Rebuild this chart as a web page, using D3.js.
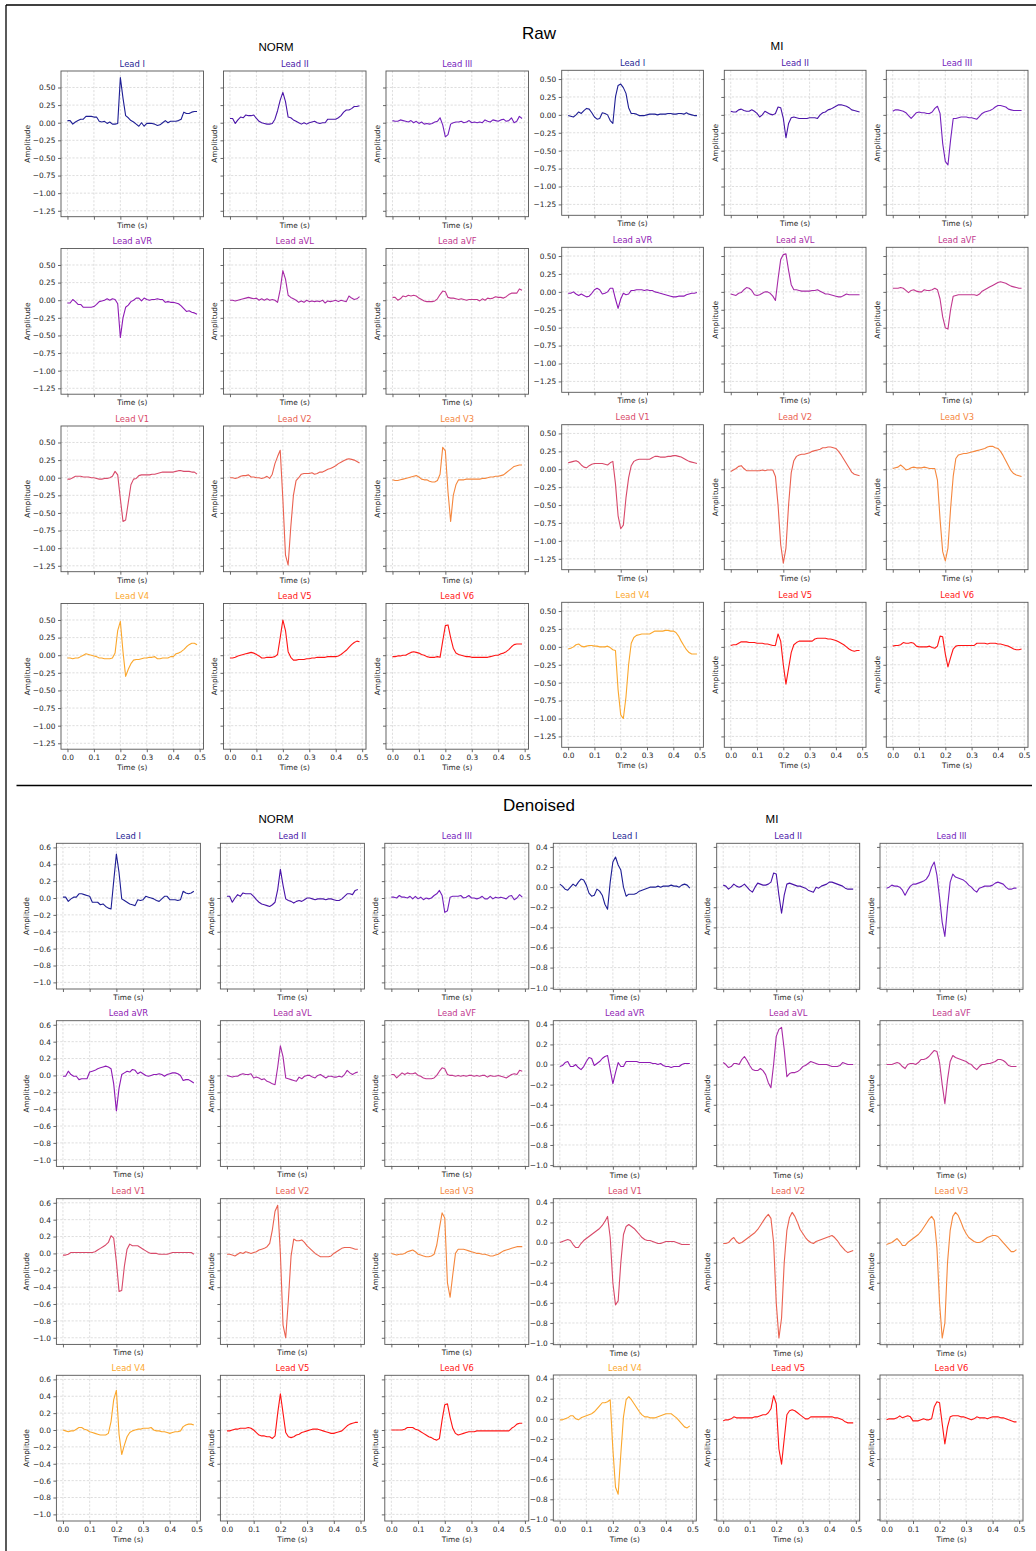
<!DOCTYPE html>
<html>
<head>
<meta charset="utf-8">
<title>ECG leads: Raw vs Denoised</title>
<script src="https://d3js.org/d3.v7.min.js"></script>
<style>
  body { margin: 0; background: #fff; }
  svg { display: block; }
  .tick text { fill: #262626; }
  .lbl { font-family: "DejaVu Sans", sans-serif; fill: #262626; }
</style>
</head>
<body>
<svg id="chart" width="1036" height="1551"></svg>
<script>
// ---- data ----
const leads = ["I", "II", "III", "aVR", "aVL", "aVF", "V1", "V2", "V3", "V4", "V5", "V6"];
const leadColors = ["#1e1e94", "#4a14a8", "#7420bc", "#8e1ab4", "#a72aa6", "#c2388e",
                    "#d84a6a", "#ea6150", "#f5873d", "#fba72c", "#ff1414", "#ff1414"];
const timeS = [0.00,0.01,0.02,0.03,0.04,0.05,0.06,0.07,0.08,0.09,0.10,0.11,0.12,0.13,0.14,0.15,0.16,0.17,0.18,0.19,
               0.20,0.21,0.22,0.23,0.24,0.25,0.26,0.27,0.28,0.29,0.30,0.31,0.32,0.33,0.34,0.35,0.36,0.37,0.38,0.39,
               0.40,0.41,0.42,0.43,0.44,0.45,0.46,0.47,0.48,0.49];
const xTicks = [0, 0.1, 0.2, 0.3, 0.4, 0.5];
const rawYTicks = [0.5, 0.25, 0, -0.25, -0.5, -0.75, -1, -1.25];
const denNormYTicks = [0.6, 0.4, 0.2, 0, -0.2, -0.4, -0.6, -0.8, -1.0];
const denMIYTicks = [0.4, 0.2, 0, -0.2, -0.4, -0.6, -0.8, -1.0];

// raw NORM, one row per lead
const rawNorm = [
  [0.03,0.03,-0.02,0.01,0.03,0.05,0.05,0.09,0.09,0.09,0.08,0.08,0.02,0.01,0.02,-0.01,0.01,-0.02,-0.02,-0.01,0.64,0.35,0.10,0.07,0.03,0.01,-0.02,-0.05,0.00,-0.05,-0.01,-0.01,-0.01,-0.02,-0.04,-0.03,0.00,0.03,0.00,0.02,0.02,0.02,0.03,0.05,0.15,0.13,0.13,0.15,0.16,0.16],
  [0.06,0.06,-0.01,0.04,0.08,0.07,0.11,0.10,0.10,0.11,0.06,0.02,0.00,-0.01,-0.02,-0.02,-0.01,0.05,0.17,0.32,0.43,0.30,0.08,0.07,0.04,0.02,0.00,-0.02,0.00,-0.02,0.00,0.01,0.02,0.00,-0.01,0.00,0.00,0.05,0.05,0.05,0.05,0.07,0.10,0.15,0.18,0.18,0.20,0.23,0.23,0.24],
  [0.03,0.02,0.02,0.04,0.03,0.02,0.01,0.03,0.00,0.02,-0.01,0.01,-0.02,-0.01,-0.02,-0.01,0.01,0.02,0.07,-0.03,-0.20,-0.17,-0.02,0.00,0.01,0.01,0.02,0.00,0.01,0.03,0.00,0.01,0.00,0.01,0.00,0.04,0.02,0.01,0.04,0.03,0.02,0.04,0.05,0.02,0.03,0.07,0.00,0.02,0.09,0.06],
  [-0.04,-0.04,0.01,-0.02,-0.06,-0.06,-0.10,-0.10,-0.10,-0.10,-0.09,-0.06,-0.02,-0.01,0.00,0.02,0.00,0.02,0.01,-0.05,-0.53,-0.25,-0.10,-0.07,-0.02,0.00,0.03,0.03,-0.01,0.03,0.01,0.00,0.01,0.01,0.02,0.01,0.01,-0.03,-0.02,-0.03,-0.03,-0.04,-0.05,-0.08,-0.12,-0.16,-0.15,-0.17,-0.18,-0.20],
  [0.00,0.00,-0.01,0.00,0.01,0.02,0.03,0.04,0.03,0.02,0.03,0.00,0.02,0.00,0.02,0.00,0.01,0.00,-0.03,0.15,0.42,0.30,0.07,0.04,0.02,0.00,-0.03,-0.01,-0.03,0.00,-0.02,-0.01,-0.02,-0.01,-0.02,0.00,-0.04,-0.01,-0.02,-0.01,0.00,-0.02,0.00,-0.01,-0.02,0.06,0.03,0.01,0.02,0.05],
  [0.04,0.04,0.00,0.02,0.06,0.05,0.07,0.06,0.07,0.06,0.03,0.01,-0.01,-0.02,-0.02,-0.02,-0.01,0.02,0.08,0.13,0.12,0.04,0.03,0.03,0.02,0.01,0.02,0.01,0.00,0.01,0.01,0.01,0.01,-0.01,0.02,0.00,0.03,0.02,0.03,0.05,0.04,0.04,0.03,0.05,0.08,0.10,0.10,0.10,0.16,0.14],
  [-0.02,-0.02,0.00,0.02,0.02,0.02,0.01,0.01,0.01,0.00,0.00,-0.01,-0.02,-0.02,-0.01,-0.01,0.00,0.02,0.09,0.04,-0.30,-0.62,-0.60,-0.35,-0.10,-0.02,-0.01,0.03,0.04,0.04,0.04,0.04,0.05,0.05,0.06,0.07,0.08,0.08,0.08,0.08,0.08,0.09,0.10,0.10,0.09,0.09,0.09,0.08,0.08,0.05],
  [0.00,0.00,-0.01,0.00,0.02,0.03,0.03,0.04,0.01,0.01,0.00,0.00,-0.01,0.00,0.02,-0.01,0.05,0.20,0.30,0.39,-0.30,-1.10,-1.24,-0.70,-0.25,-0.04,0.00,0.05,0.06,0.06,0.06,0.07,0.05,0.06,0.08,0.08,0.10,0.12,0.13,0.15,0.17,0.20,0.22,0.24,0.26,0.27,0.26,0.25,0.23,0.21],
  [-0.03,-0.04,-0.04,-0.03,-0.02,-0.01,0.00,0.01,0.02,0.03,0.01,-0.02,-0.03,-0.03,-0.05,-0.06,-0.06,-0.04,0.05,0.43,0.38,-0.20,-0.62,-0.25,-0.10,-0.03,-0.03,-0.03,-0.02,-0.02,-0.02,-0.02,-0.02,-0.02,-0.01,-0.01,0.00,0.01,0.01,0.02,0.02,0.03,0.04,0.07,0.10,0.13,0.16,0.17,0.18,0.18],
  [-0.04,-0.04,-0.05,-0.04,-0.04,-0.02,0.00,0.02,0.01,0.00,-0.01,-0.02,-0.04,-0.04,-0.05,-0.05,-0.05,-0.04,0.03,0.35,0.48,0.05,-0.30,-0.20,-0.12,-0.07,-0.06,-0.06,-0.05,-0.04,-0.04,-0.03,-0.03,-0.02,-0.05,-0.05,-0.04,-0.04,-0.04,-0.02,-0.02,0.02,0.03,0.05,0.08,0.12,0.15,0.17,0.17,0.15],
  [-0.04,-0.04,-0.03,-0.01,0.00,0.01,0.02,0.03,0.04,0.03,0.01,-0.01,-0.04,-0.04,-0.03,-0.03,-0.03,-0.02,0.01,0.25,0.50,0.35,0.05,-0.03,-0.07,-0.07,-0.06,-0.06,-0.06,-0.05,-0.05,-0.04,-0.04,-0.03,-0.03,-0.03,-0.03,-0.02,-0.02,-0.02,-0.02,-0.01,0.01,0.04,0.07,0.11,0.15,0.18,0.20,0.19],
  [-0.02,-0.02,-0.01,-0.01,0.00,0.00,0.02,0.04,0.05,0.04,0.03,0.01,0.00,-0.02,-0.03,-0.03,-0.03,-0.02,-0.03,0.20,0.42,0.43,0.25,0.10,0.03,0.01,0.00,-0.01,-0.02,-0.02,-0.03,-0.03,-0.03,-0.03,-0.03,-0.03,-0.03,-0.02,-0.01,0.00,0.00,0.02,0.03,0.05,0.08,0.12,0.15,0.16,0.16,0.16]
];

// raw MI
const rawMI = [
  [-0.01,-0.02,-0.03,0.00,0.04,0.02,0.06,0.09,0.08,0.03,-0.03,-0.06,-0.05,0.03,0.02,0.00,-0.08,-0.12,0.25,0.41,0.43,0.38,0.30,0.10,0.02,0.02,0.01,-0.01,-0.01,-0.01,0.00,0.01,0.01,0.01,0.00,0.01,0.01,0.01,0.02,0.02,0.01,0.01,0.02,0.02,0.01,0.03,0.01,0.00,-0.01,-0.01],
  [0.05,0.04,0.04,0.07,0.08,0.06,0.05,0.05,0.07,0.05,0.02,-0.03,0.00,0.05,0.03,0.01,0.00,0.02,0.11,0.10,-0.05,-0.32,-0.12,-0.04,-0.03,-0.04,-0.05,-0.05,-0.05,-0.05,-0.04,-0.04,-0.04,-0.05,0.00,0.03,0.04,0.07,0.08,0.10,0.12,0.14,0.14,0.13,0.12,0.10,0.07,0.06,0.05,0.04],
  [0.05,0.07,0.07,0.06,0.05,0.03,-0.01,-0.05,-0.01,0.03,0.04,0.03,0.03,0.02,0.02,0.04,0.09,0.12,0.02,-0.40,-0.65,-0.70,-0.35,-0.05,-0.05,-0.04,-0.03,-0.03,-0.03,-0.04,-0.04,-0.05,-0.06,-0.02,0.02,0.04,0.05,0.06,0.08,0.11,0.13,0.13,0.12,0.11,0.08,0.07,0.06,0.06,0.06,0.06],
  [-0.02,-0.02,0.00,-0.03,-0.05,-0.03,-0.05,-0.07,-0.06,-0.02,0.03,0.05,0.03,-0.03,-0.02,0.00,0.05,0.05,-0.10,-0.23,-0.10,-0.02,-0.04,-0.03,0.02,0.02,0.03,0.03,0.03,0.02,0.03,0.02,0.02,0.00,-0.01,-0.02,-0.03,-0.04,-0.05,-0.06,-0.07,-0.07,-0.06,-0.06,-0.06,-0.04,-0.03,-0.02,-0.02,-0.01],
  [-0.03,-0.04,-0.05,-0.02,-0.01,0.03,0.06,0.05,0.02,-0.04,-0.05,-0.04,-0.02,0.00,0.00,-0.02,-0.06,-0.12,0.18,0.45,0.52,0.53,0.30,0.10,0.03,0.03,0.02,0.01,0.01,0.01,0.01,0.02,0.02,0.03,0.01,-0.01,-0.03,-0.03,-0.04,-0.05,-0.06,-0.07,-0.07,-0.05,-0.03,-0.04,-0.04,-0.04,-0.04,-0.04],
  [0.05,0.05,0.05,0.06,0.05,0.02,-0.01,0.02,0.03,0.01,0.00,0.00,0.03,0.02,0.02,0.03,0.05,0.03,-0.10,-0.35,-0.50,-0.52,-0.25,-0.06,-0.05,-0.04,-0.04,-0.04,-0.04,-0.04,-0.04,-0.04,-0.05,-0.03,0.01,0.03,0.05,0.07,0.09,0.11,0.13,0.14,0.13,0.12,0.10,0.08,0.07,0.06,0.05,0.05],
  [0.09,0.10,0.11,0.12,0.10,0.06,0.03,0.02,0.05,0.07,0.08,0.08,0.08,0.08,0.07,0.06,0.09,0.11,-0.20,-0.65,-0.83,-0.78,-0.40,-0.12,0.05,0.11,0.13,0.14,0.14,0.14,0.14,0.14,0.16,0.18,0.18,0.17,0.17,0.17,0.18,0.18,0.19,0.19,0.18,0.17,0.15,0.13,0.11,0.10,0.09,0.08],
  [-0.03,-0.01,0.01,0.04,0.05,0.01,-0.02,-0.02,-0.02,-0.02,-0.02,-0.02,-0.01,-0.02,-0.01,-0.01,-0.01,-0.10,-0.50,-1.05,-1.31,-1.10,-0.50,-0.05,0.12,0.18,0.20,0.21,0.21,0.22,0.23,0.25,0.26,0.27,0.28,0.30,0.30,0.31,0.31,0.30,0.29,0.25,0.20,0.14,0.08,0.02,-0.04,-0.07,-0.08,-0.09],
  [0.01,0.02,0.03,0.06,0.03,-0.01,0.00,0.02,0.03,0.02,0.02,0.02,0.03,0.02,0.01,0.01,0.01,-0.15,-0.70,-1.15,-1.28,-1.10,-0.55,-0.10,0.15,0.20,0.21,0.22,0.22,0.23,0.24,0.25,0.26,0.27,0.28,0.29,0.31,0.32,0.32,0.30,0.29,0.25,0.19,0.12,0.05,-0.02,-0.06,-0.08,-0.09,-0.10],
  [-0.03,-0.02,0.00,0.03,0.04,0.01,0.00,0.01,0.02,0.02,0.01,0.01,0.00,0.00,0.00,0.01,-0.01,-0.04,-0.05,-0.60,-0.95,-1.00,-0.70,-0.25,0.05,0.13,0.16,0.17,0.18,0.18,0.18,0.18,0.20,0.22,0.22,0.22,0.22,0.23,0.23,0.22,0.22,0.20,0.15,0.08,0.02,-0.04,-0.08,-0.10,-0.10,-0.10],
  [0.02,0.03,0.03,0.05,0.07,0.07,0.07,0.06,0.06,0.06,0.05,0.05,0.05,0.04,0.04,0.03,0.02,0.02,0.18,0.08,-0.25,-0.52,-0.30,-0.08,0.03,0.06,0.08,0.08,0.08,0.08,0.08,0.08,0.11,0.12,0.12,0.12,0.12,0.11,0.11,0.10,0.09,0.07,0.05,0.03,0.00,-0.03,-0.05,-0.06,-0.05,-0.05],
  [0.01,0.02,0.02,0.03,0.06,0.05,0.05,0.06,0.05,0.01,0.00,0.00,0.00,0.00,0.01,-0.01,-0.02,0.01,0.15,0.14,-0.10,-0.28,-0.15,-0.03,0.01,0.02,0.02,0.02,0.02,0.02,0.02,0.02,0.05,0.05,0.05,0.05,0.04,0.05,0.05,0.05,0.04,0.04,0.03,0.02,0.01,-0.01,-0.03,-0.04,-0.04,-0.03]
];

// denoised NORM
const denNorm = [
  [0.01,0.01,-0.04,-0.01,0.01,0.01,0.05,0.05,0.04,0.03,0.02,-0.05,-0.05,-0.05,-0.08,-0.07,-0.10,-0.12,-0.13,0.20,0.52,0.30,-0.01,-0.03,-0.05,-0.07,-0.08,-0.09,-0.02,-0.03,-0.02,0.02,0.01,0.00,-0.01,-0.03,-0.04,-0.01,0.02,0.02,-0.02,-0.02,-0.02,-0.03,-0.02,0.08,0.06,0.05,0.06,0.08],
  [0.02,0.02,-0.05,0.00,0.04,0.02,0.06,0.05,0.05,0.05,0.02,-0.02,-0.05,-0.07,-0.08,-0.09,-0.10,-0.08,-0.05,0.10,0.34,0.15,-0.01,-0.03,-0.04,-0.06,-0.04,-0.03,-0.04,-0.02,0.00,0.00,-0.01,-0.02,-0.01,-0.01,-0.01,-0.02,-0.01,-0.01,-0.02,-0.03,-0.03,-0.01,0.02,0.05,0.05,0.04,0.09,0.10],
  [0.01,0.01,0.00,0.03,0.01,0.01,0.00,0.02,-0.01,0.02,-0.01,0.01,-0.02,0.00,-0.01,0.00,0.03,0.05,0.09,0.03,-0.17,-0.15,0.01,0.02,0.02,0.02,0.03,0.00,0.01,0.03,0.00,0.00,-0.01,0.00,0.02,-0.01,-0.01,0.02,-0.01,0.01,0.00,0.01,0.00,-0.01,0.02,0.03,-0.02,0.00,0.04,0.01],
  [-0.01,-0.01,0.05,0.01,-0.01,-0.01,-0.05,-0.04,-0.04,-0.04,0.04,0.05,0.06,0.08,0.09,0.10,0.11,0.10,0.08,-0.10,-0.42,-0.15,0.01,0.03,0.05,0.04,0.07,0.06,0.02,0.04,0.02,0.00,-0.01,0.00,0.01,0.01,0.02,0.01,-0.01,0.01,0.02,0.03,0.03,0.02,0.00,-0.06,-0.05,-0.05,-0.07,-0.09],
  [0.00,-0.01,-0.02,-0.01,-0.01,0.01,0.02,0.01,0.01,0.02,-0.03,-0.02,-0.03,-0.05,-0.04,-0.07,-0.08,-0.10,-0.11,0.10,0.35,0.22,-0.03,-0.04,-0.05,-0.06,-0.07,-0.02,-0.04,-0.01,0.00,0.00,-0.02,-0.03,0.00,0.01,-0.01,-0.03,-0.01,-0.01,-0.02,-0.02,-0.01,-0.02,0.01,0.06,0.03,0.01,0.03,0.04],
  [0.01,0.01,-0.03,0.00,0.03,0.01,0.03,0.02,0.02,0.03,0.00,-0.01,-0.03,-0.04,-0.04,-0.04,-0.03,0.00,0.05,0.09,0.08,0.01,0.00,0.00,-0.01,0.00,-0.01,0.00,-0.01,0.00,0.00,-0.01,0.00,-0.01,0.00,0.00,-0.02,0.00,-0.01,-0.01,0.00,-0.01,-0.02,-0.03,-0.01,0.01,0.02,0.01,0.06,0.05],
  [-0.02,-0.02,-0.01,0.01,0.01,0.01,0.01,0.01,0.01,0.01,0.01,0.01,0.02,0.04,0.06,0.08,0.10,0.13,0.21,0.18,-0.10,-0.45,-0.44,-0.15,0.05,0.11,0.09,0.09,0.09,0.07,0.05,0.03,0.01,0.00,0.00,0.00,-0.01,-0.01,-0.01,-0.01,0.00,0.01,0.01,0.01,0.01,0.01,0.01,0.01,0.01,-0.01],
  [-0.01,-0.01,-0.02,-0.03,-0.01,0.01,0.00,0.02,0.01,0.00,0.01,0.02,0.04,0.05,0.06,0.08,0.12,0.28,0.50,0.57,0.00,-0.85,-1.00,-0.55,-0.03,0.17,0.15,0.15,0.16,0.13,0.09,0.06,0.03,0.00,-0.02,-0.04,-0.04,-0.04,-0.04,-0.03,0.00,0.02,0.04,0.06,0.07,0.07,0.07,0.06,0.05,0.05],
  [0.00,-0.01,-0.02,-0.01,-0.01,0.00,0.02,0.03,0.04,0.02,-0.01,-0.02,-0.03,-0.04,-0.04,-0.03,-0.01,0.10,0.30,0.48,0.42,-0.35,-0.52,-0.25,0.00,0.05,0.05,0.05,0.04,0.03,0.02,0.01,0.00,0.00,-0.01,-0.01,-0.02,-0.03,-0.03,-0.02,-0.01,0.01,0.03,0.04,0.05,0.06,0.07,0.08,0.08,0.08],
  [0.00,-0.01,-0.02,-0.01,-0.01,0.01,0.03,0.03,0.01,0.00,-0.02,-0.03,-0.04,-0.05,-0.06,-0.06,-0.06,-0.04,0.10,0.36,0.47,-0.05,-0.29,-0.18,-0.08,-0.03,-0.01,0.00,0.01,0.01,0.02,0.02,0.02,0.03,0.00,-0.01,-0.01,-0.02,-0.02,-0.03,-0.04,-0.03,-0.02,-0.02,-0.01,0.04,0.06,0.07,0.07,0.06],
  [-0.01,-0.01,0.00,0.01,0.01,0.02,0.02,0.02,0.03,0.02,0.00,-0.03,-0.06,-0.07,-0.07,-0.08,-0.08,-0.10,-0.07,0.20,0.43,0.20,-0.03,-0.08,-0.09,-0.08,-0.06,-0.05,-0.03,-0.02,-0.01,0.00,0.01,0.01,0.01,0.00,-0.01,-0.02,-0.03,-0.04,-0.04,-0.03,-0.02,-0.01,0.02,0.05,0.07,0.08,0.09,0.09],
  [0.00,0.00,0.00,0.00,0.00,0.01,0.03,0.03,0.03,0.01,0.00,-0.02,-0.04,-0.06,-0.08,-0.09,-0.11,-0.12,-0.10,0.12,0.30,0.31,0.15,0.02,-0.04,-0.06,-0.05,-0.04,-0.03,-0.02,-0.02,-0.02,-0.01,-0.01,-0.01,-0.01,-0.01,-0.01,-0.01,-0.01,-0.01,-0.01,-0.01,-0.01,-0.01,0.02,0.04,0.07,0.08,0.08]
];

// denoised MI
const denMI = [
  [0.03,0.01,-0.02,-0.03,0.00,0.03,0.01,0.05,0.08,0.07,0.02,-0.06,-0.09,-0.08,-0.02,-0.04,-0.08,-0.17,-0.22,0.05,0.25,0.30,0.22,0.17,0.00,-0.09,-0.07,-0.07,-0.07,-0.06,-0.04,-0.03,-0.02,-0.01,0.00,0.00,0.00,0.01,0.00,0.01,0.01,0.01,0.02,0.01,0.01,0.00,0.02,0.03,0.02,-0.01],
  [0.02,0.01,-0.02,0.00,0.03,0.01,0.00,0.01,0.03,0.00,-0.03,-0.05,0.00,0.04,0.03,0.02,0.02,0.03,0.05,0.14,0.13,-0.08,-0.26,-0.08,0.03,0.04,0.03,0.02,0.01,0.01,0.00,-0.01,-0.03,-0.04,-0.05,0.00,-0.01,0.01,0.02,0.03,0.05,0.05,0.04,0.03,0.02,0.01,-0.01,-0.02,-0.02,-0.02],
  [-0.01,0.00,0.02,0.01,0.01,0.00,-0.03,-0.08,-0.03,0.01,0.03,0.03,0.04,0.05,0.06,0.08,0.12,0.20,0.25,0.12,-0.10,-0.35,-0.49,-0.20,0.05,0.13,0.10,0.09,0.08,0.07,0.05,0.02,0.00,-0.03,-0.05,-0.01,0.00,0.01,0.01,0.01,0.02,0.04,0.05,0.04,0.03,0.00,-0.02,-0.02,-0.01,-0.01],
  [-0.02,-0.01,0.02,0.03,-0.02,-0.02,0.00,-0.03,-0.05,-0.02,0.03,0.07,0.06,-0.01,0.01,0.03,0.06,0.08,0.09,-0.05,-0.19,-0.08,0.02,-0.02,-0.02,0.03,0.03,0.03,0.03,0.03,0.02,0.02,0.02,0.02,0.02,0.01,0.01,0.00,0.01,-0.01,-0.02,-0.02,-0.03,-0.02,-0.02,-0.02,0.00,0.01,0.01,0.01],
  [0.02,0.00,-0.03,-0.02,0.01,0.01,0.00,0.05,0.08,0.04,-0.01,-0.05,-0.06,-0.06,-0.04,-0.06,-0.10,-0.18,-0.23,0.00,0.28,0.35,0.37,0.15,-0.12,-0.09,-0.08,-0.08,-0.07,-0.05,-0.02,-0.01,0.01,0.03,0.02,0.01,0.00,0.00,0.00,0.00,-0.01,-0.02,-0.02,-0.02,-0.01,0.02,0.01,0.00,0.00,0.00],
  [0.00,0.00,0.00,0.01,0.02,0.01,-0.02,-0.04,0.00,0.01,0.01,0.00,0.02,0.05,0.05,0.06,0.08,0.11,0.14,0.13,0.02,-0.20,-0.39,-0.15,0.03,0.09,0.07,0.06,0.05,0.04,0.03,0.01,0.00,-0.03,-0.05,-0.02,0.00,0.00,0.01,0.01,0.02,0.03,0.05,0.05,0.04,0.02,-0.01,-0.02,-0.02,-0.02],
  [0.00,0.01,0.02,0.03,0.02,-0.02,-0.05,-0.05,-0.01,0.02,0.04,0.06,0.08,0.10,0.12,0.14,0.17,0.21,0.26,0.05,-0.40,-0.62,-0.58,-0.20,0.08,0.16,0.18,0.16,0.14,0.11,0.08,0.05,0.03,0.02,0.02,0.01,0.00,-0.01,-0.01,0.00,0.01,0.01,0.01,0.01,0.00,-0.01,-0.02,-0.02,-0.02,-0.02],
  [-0.01,-0.01,0.00,0.03,0.05,0.01,-0.01,0.00,0.02,0.04,0.06,0.08,0.10,0.13,0.17,0.21,0.25,0.28,0.24,0.00,-0.60,-0.95,-0.75,-0.20,0.12,0.25,0.30,0.26,0.20,0.13,0.09,0.05,0.02,0.00,-0.01,0.01,0.02,0.03,0.04,0.05,0.06,0.07,0.05,0.02,-0.02,-0.05,-0.08,-0.10,-0.09,-0.08],
  [-0.02,-0.01,0.00,0.02,0.04,0.01,-0.03,-0.03,0.00,0.02,0.04,0.06,0.08,0.11,0.15,0.19,0.23,0.26,0.22,-0.05,-0.60,-0.95,-0.80,-0.20,0.12,0.26,0.30,0.27,0.21,0.14,0.09,0.05,0.03,0.01,0.00,0.00,0.01,0.03,0.05,0.06,0.07,0.07,0.06,0.03,0.00,-0.03,-0.06,-0.09,-0.09,-0.07],
  [-0.01,-0.01,0.00,0.01,0.03,0.03,0.00,-0.01,0.01,0.02,0.03,0.04,0.05,0.07,0.10,0.13,0.16,0.16,0.17,0.19,-0.30,-0.68,-0.75,-0.35,0.02,0.19,0.22,0.19,0.15,0.11,0.07,0.04,0.02,0.02,0.01,0.01,0.01,0.02,0.03,0.04,0.05,0.05,0.05,0.03,0.01,-0.02,-0.05,-0.08,-0.09,-0.07],
  [-0.02,-0.01,-0.01,0.00,0.02,0.01,0.01,0.01,0.01,0.01,0.01,0.01,0.02,0.02,0.03,0.04,0.04,0.06,0.10,0.23,0.15,-0.30,-0.45,-0.20,0.04,0.08,0.09,0.08,0.06,0.04,0.02,0.00,0.00,0.02,0.02,0.02,0.02,0.02,0.02,0.02,0.02,0.02,0.01,0.01,0.00,-0.01,-0.03,-0.04,-0.04,-0.04],
  [-0.01,0.00,0.00,0.00,0.01,0.03,0.01,0.02,0.03,0.02,-0.02,-0.02,-0.02,-0.01,0.00,-0.01,-0.01,0.00,0.12,0.17,0.16,-0.05,-0.25,-0.08,0.02,0.03,0.03,0.03,0.02,0.02,0.01,0.00,-0.01,0.00,0.02,0.01,0.01,0.01,0.00,0.01,0.02,0.02,0.02,0.01,0.01,0.00,-0.01,-0.02,-0.03,-0.03]
];

// ---- layout ----
const svg = d3.select("#chart");
const FONT = "DejaVu Sans, sans-serif";

// figure frame and separator
svg.append("line").attr("x1", 6).attr("y1", 5).attr("x2", 1036).attr("y2", 5)
  .attr("stroke", "#000").attr("stroke-width", 1.3);
svg.append("line").attr("x1", 6).attr("y1", 5).attr("x2", 6).attr("y2", 1551)
  .attr("stroke", "#000").attr("stroke-width", 1.3);
svg.append("line").attr("x1", 16.5).attr("y1", 785.5).attr("x2", 1032).attr("y2", 785.5)
  .attr("stroke", "#000").attr("stroke-width", 1.5);

const sections = [
  { title: "Raw", y: 39 },
  { title: "Denoised", y: 811 }
];
sections.forEach(s => {
  svg.append("text").attr("x", 539).attr("y", s.y).attr("text-anchor", "middle")
    .style("font-family", "Liberation Sans, Arial, sans-serif").style("font-size", "17px")
    .text(s.title);
});

const groups = [
  { name: "NORM", data: rawNorm, yTicks: rawYTicks, fmt: ".2f", tx: 276, ty: 51,
    lefts: [61, 223.5, 386], w: 142.5, tops: [71, 248.5, 426, 603.5], h: 145.7, ylabFirst: 34 },
  { name: "MI", data: rawMI, yTicks: rawYTicks, fmt: ".2f", tx: 777, ty: 50,
    lefts: [561.7, 724.3, 886.3], w: 141.7, tops: [70.3, 247.3, 424.7, 602.3], h: 145, ylabFirst: null },
  { name: "NORM", data: denNorm, yTicks: denNormYTicks, fmt: ".1f", tx: 276, ty: 822.5,
    lefts: [56.4, 220.4, 384.8], w: 144, tops: [843.3, 1020.7, 1198.7, 1375.3], h: 145.7, ylabFirst: 30 },
  { name: "MI", data: denMI, yTicks: denMIYTicks, fmt: ".1f", tx: 772, ty: 822.5,
    lefts: [553.3, 716.7, 880], w: 143, tops: [843.3, 1020.7, 1198.7, 1375], h: 146, ylabFirst: null }
];

groups.forEach(g => {
  svg.append("text").attr("x", g.tx).attr("y", g.ty).attr("text-anchor", "middle")
    .style("font-family", "Liberation Sans, Arial, sans-serif").style("font-size", "11.5px")
    .text(g.name);

  // shared y domain with 5% margins, like matplotlib autoscale
  const all = g.data.flat();
  const [lo, hi] = d3.extent(all);
  const pad = (hi - lo) * 0.05;
  const xPad = (d3.max(timeS) - d3.min(timeS)) * 0.05;

  g.data.forEach((series, i) => {
    const row = Math.floor(i / 3), col = i % 3;
    const left = g.lefts[col], top = g.tops[row];
    const x = d3.scaleLinear().domain([d3.min(timeS) - xPad, d3.max(timeS) + xPad]).range([0, g.w]);
    const y = d3.scaleLinear().domain([lo - pad, hi + pad]).range([g.h, 0]);
    const p = svg.append("g").attr("transform", `translate(${left},${top})`);

    // grid
    p.append("g").selectAll("line").data(xTicks).join("line")
      .attr("x1", d => x(d)).attr("x2", d => x(d)).attr("y1", 0).attr("y2", g.h)
      .attr("stroke", "#c8c8c8").attr("stroke-width", 0.6).attr("stroke-dasharray", "2.2,1.6");
    p.append("g").selectAll("line").data(g.yTicks).join("line")
      .attr("x1", 0).attr("x2", g.w).attr("y1", d => y(d)).attr("y2", d => y(d))
      .attr("stroke", "#c8c8c8").attr("stroke-width", 0.6).attr("stroke-dasharray", "2.2,1.6");

    // trace
    const line = d3.line().x((d, k) => x(timeS[k])).y(d => y(d));
    p.append("path").datum(series).attr("d", line)
      .attr("fill", "none").attr("stroke", leadColors[i]).attr("stroke-width", 1.1)
      .attr("stroke-linejoin", "round");

    // axes
    const xAxis = d3.axisBottom(x).tickValues(xTicks).tickSize(3).tickSizeOuter(0).tickPadding(2.5)
      .tickFormat(row === 3 ? d3.format(".1f") : "");
    const xg = p.append("g").attr("transform", `translate(0,${g.h})`).call(xAxis);
    const yAxis = d3.axisLeft(y).tickValues(g.yTicks).tickSize(3).tickSizeOuter(0).tickPadding(2.5)
      .tickFormat(col === 0 ? d3.format(g.fmt) : "");
    const yg = p.append("g").call(yAxis);
    [xg, yg].forEach(a => {
      a.select(".domain").remove();
      a.selectAll(".tick line").attr("stroke", "#444").attr("stroke-width", 0.8);
      a.selectAll(".tick text").style("font-family", FONT).style("font-size", "7.4px");
    });

    // frame
    p.append("rect").attr("width", g.w).attr("height", g.h)
      .attr("fill", "none").attr("stroke", "#555").attr("stroke-width", 0.9);

    // titles and labels
    p.append("text").attr("x", g.w / 2).attr("y", -4.5).attr("text-anchor", "middle")
      .style("font-family", FONT).style("font-size", "8.4px").attr("fill", leadColors[i])
      .text("Lead " + leads[i]);
    p.append("text").attr("class", "lbl").attr("x", g.w / 2)
      .attr("y", row === 3 ? g.h + 21 : g.h + 11).attr("text-anchor", "middle")
      .style("font-size", "7.4px").text("Time (s)");
    const off = col === 0 ? g.ylabFirst : 9;
    if (off !== null) {
      p.append("text").attr("class", "lbl")
        .attr("transform", `translate(${-off},${g.h / 2}) rotate(-90)`)
        .attr("text-anchor", "middle").attr("dy", "0.35em")
        .style("font-size", "7.4px").text("Amplitude");
    }
  });
});
</script>
</body>
</html>
